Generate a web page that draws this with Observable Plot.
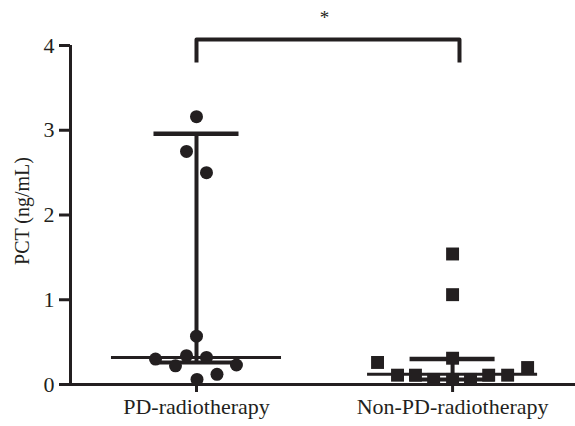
<!DOCTYPE html>
<html><head><meta charset="utf-8">
<script src="https://cdn.jsdelivr.net/npm/d3@7"></script>
<script src="https://cdn.jsdelivr.net/npm/@observablehq/plot@0.6"></script>
<style>body{margin:0;background:#fff}</style>
</head><body><div id="chart"></div>
<script>
// ---- data ----
const groups = ["PD-radiotherapy", "Non-PD-radiotherapy"];
const pdValues = [3.16, 2.75, 2.50, 0.57, 0.30, 0.34, 0.32, 0.22, 0.23, 0.06, 0.12];
const pdJitter = [0, -0.039, 0.039, 0, -0.16, -0.039, 0.039, -0.082, 0.156, 0.002, 0.08];
const nonPdValues = [1.54, 1.06, 0.31, 0.26, 0.20, 0.11, 0.11, 0.11, 0.11, 0.06, 0.06, 0.06];
const nonPdJitter = [0, 0, 0, -0.293, 0.293, -0.215, -0.145, 0.141, 0.215, -0.074, 0, 0.07];
const medians = [0.32, 0.12];
const upperBars = [2.96, 0.30];
const lowerBars = [0.26, 0.06];
const yTicks = [0, 1, 2, 3, 4];
const yLabel = "PCT (ng/mL)";
const sigLabel = "*";
const sigLevel = 4.07;

const ink = "#231f20";
const pdPts = pdValues.map((v, i) => ({x: 0 + pdJitter[i], y: v}));
const nonPts = nonPdValues.map((v, i) => ({x: 1 + nonPdJitter[i], y: v}));
const stats = groups.map((g, i) => ({cx: i, med: medians[i], hi: upperBars[i], lo: lowerBars[i]}));
const xMin = -0.492, xMax = 1.48;
const bracket = [
  {x: 0, y: sigLevel - 0.27}, {x: 0, y: sigLevel},
  {x: 1.027, y: sigLevel}, {x: 1.027, y: sigLevel - 0.27}
];

const chart = Plot.plot({
  width: 575,
  height: 426,
  marginLeft: 70,
  marginRight: 0,
  marginTop: 45,
  marginBottom: 42,
  style: {fontFamily: "'Liberation Serif', serif", fontSize: "22px", color: ink, background: "white"},
  x: {domain: [xMin, xMax], axis: null},
  y: {domain: [0, 4], axis: null},
  marks: [
    Plot.axisY({ticks: yTicks, tickFormat: d => String(d), tickSize: 11, tickPadding: 5, strokeWidth: 3, label: null, fill: ink}),
    Plot.axisX({ticks: [0, 1], tickFormat: d => groups[d], tickSize: 8, tickPadding: 6, strokeWidth: 3, label: null, fill: ink}),
    Plot.text([yLabel], {text: d => d, frameAnchor: "left", textAnchor: "middle", rotate: -90, dx: -48, dy: -4, fontSize: 20, fill: ink}),
    Plot.ruleY([0], {stroke: ink, strokeWidth: 3}),
    Plot.ruleX([xMin], {y1: 0, y2: 4, stroke: ink, strokeWidth: 3}),
    Plot.ruleX(stats, {x: "cx", y1: "lo", y2: "hi", stroke: ink, strokeWidth: 4}),
    Plot.ruleY(stats, {y: "hi", x1: d => d.cx - 0.166, x2: d => d.cx + 0.166, stroke: ink, strokeWidth: 4.5}),
    Plot.ruleY(stats, {y: "lo", x1: d => d.cx - 0.166, x2: d => d.cx + 0.166, stroke: ink, strokeWidth: 4}),
    Plot.ruleY(stats, {y: "med", x1: d => d.cx - 0.332, x2: d => d.cx + 0.332, stroke: ink, strokeWidth: 3}),
    Plot.dot(pdPts, {x: "x", y: "y", r: 6.5, fill: ink, stroke: null, symbol: "circle"}),
    Plot.dot(nonPts, {x: "x", y: "y", r: 7.3, fill: ink, stroke: null, symbol: "square"}),
    Plot.line(bracket, {x: "x", y: "y", stroke: ink, strokeWidth: 4, strokeLinejoin: "round", strokeLinecap: "butt"}),
    Plot.text([sigLabel], {x: () => 0.5, y: () => 4.32, text: d => d, fontSize: 19, fill: ink})
  ]
});
document.getElementById("chart").appendChild(chart);
</script>
</body></html>
